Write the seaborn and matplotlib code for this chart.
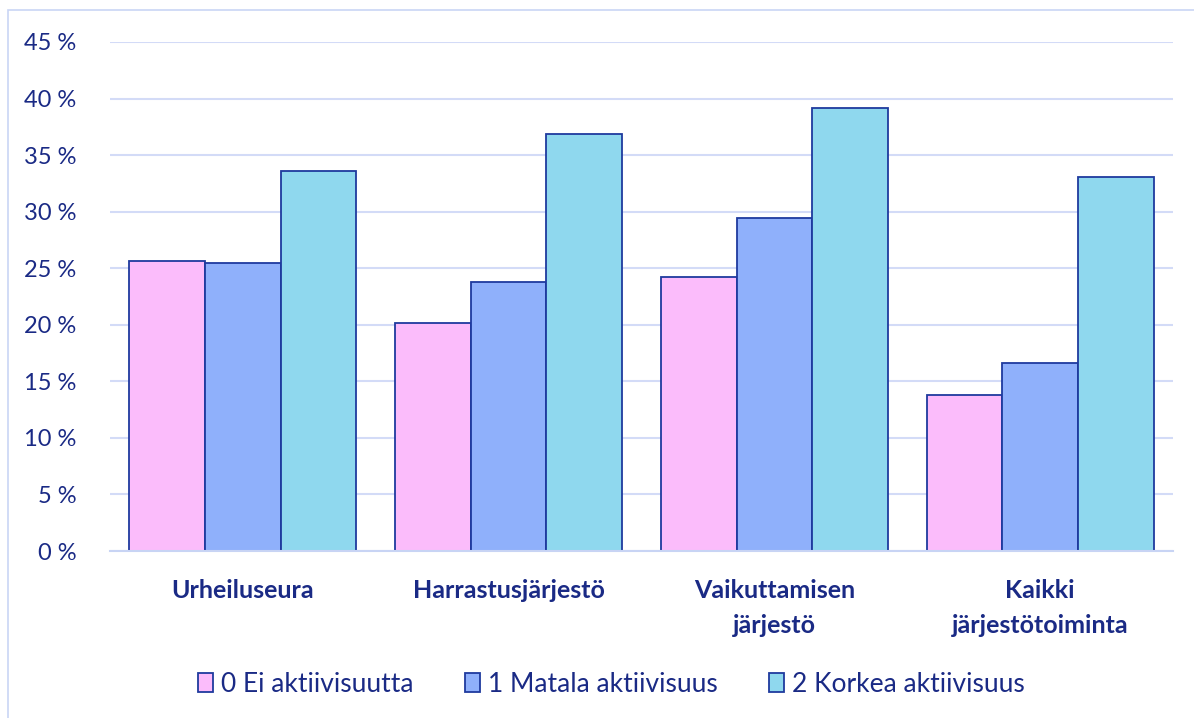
import matplotlib
matplotlib.use("Agg")
import matplotlib.pyplot as plt
import matplotlib.patches as mpatches
import seaborn as sns
import pandas as pd

categories = ["Urheiluseura", "Harrastusjärjestö", "Vaikuttamisen\njärjestö", "Kaikki\njärjestötoiminta"]
series_names = ["0 Ei aktiivisuutta", "1 Matala aktiivisuus", "2 Korkea aktiivisuus"]
ei_aktiivisuutta = [25.6, 20.2, 24.2, 13.8]
matala_aktiivisuus = [25.5, 23.8, 29.4, 16.6]
korkea_aktiivisuus = [33.6, 36.9, 39.2, 33.1]
yticks = [0, 5, 10, 15, 20, 25, 30, 35, 40, 45]

colors = ["#FBBCFB", "#8FB0FB", "#8FD8EE"]
edge = "#1F3A9E"
text_color = "#1A2A85"

rows = []
for name, vals in zip(series_names, [ei_aktiivisuutta, matala_aktiivisuus, korkea_aktiivisuus]):
    for c, v in zip(categories, vals):
        rows.append({"Kategoria": c, "Sarja": name, "Arvo": v})
df = pd.DataFrame(rows)

sns.set_theme(style="white")
plt.rcParams['font.family'] = ['Lato', 'DejaVu Sans']

fig = plt.figure(figsize=(11.94, 7.18), dpi=100)
ax = fig.add_axes([110/1194, 1-551/718, (1173-110)/1194, (551-42)/718])

sns.barplot(data=df, x="Kategoria", y="Arvo", hue="Sarja", order=categories,
            hue_order=series_names, palette=colors, width=0.855, dodge=True,
            edgecolor=edge, linewidth=1.3, saturation=1, ax=ax, errorbar=None)

ax.set_ylim(0, 45)
ax.set_yticks(yticks)
ax.set_yticklabels([f"{t} %" for t in yticks], color=text_color, fontsize=17)
ax.grid(axis="y", color="#D3DBF7", linewidth=1.5)
ax.set_axisbelow(True)
for s in ["top", "right", "left"]:
    ax.spines[s].set_visible(False)
ax.spines["bottom"].set_color("#C8D4F4")
ax.spines["bottom"].set_linewidth(1.5)
ax.tick_params(axis="y", length=0, pad=24)
ax.tick_params(axis="x", length=0, pad=20)
ax.set_xlabel("")
ax.set_ylabel("")
for lbl in ax.get_xticklabels():
    lbl.set_fontweight("bold")
    lbl.set_fontsize(18)
    lbl.set_color(text_color)
    lbl.set_linespacing(1.65)
    lbl.set_verticalalignment("top")

handles = [mpatches.Patch(facecolor=c, edgecolor=edge, linewidth=1.3) for c in colors]
ax.legend(handles, series_names, loc="center", bbox_to_anchor=(611.5/1194, 1-684/718), bbox_transform=fig.transFigure,
          ncol=3, frameon=False, fontsize=19, labelcolor=text_color, handlelength=0.55, handleheight=0.75,
          handletextpad=0.3, columnspacing=1.97)

border = mpatches.Rectangle((8/1194, -0.02), 1.05, 1-10/718+0.02, transform=fig.transFigure,
                            fill=False, edgecolor="#C9D5F5", linewidth=1.2)
fig.patches.append(border)

fig.savefig("out.png", dpi=100)
